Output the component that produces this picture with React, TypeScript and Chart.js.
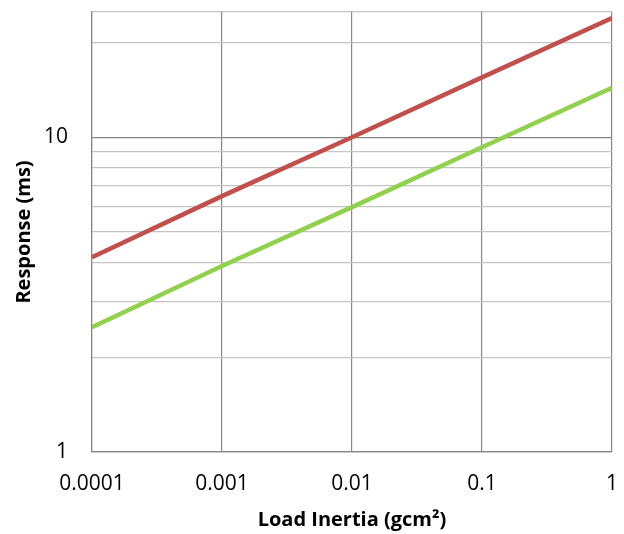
import React, { useEffect, useRef } from "react";
import { Chart, registerables } from "chart.js";

Chart.register(...registerables);

const inertia = [0.0001, 0.001, 0.01, 0.1, 1];
const responseRed = [4.16, 6.5, 10, 15.5, 23.9];
const responseGreen = [2.49, 3.9, 6.0, 9.3, 14.35];

const xTickValues = [0.0001, 0.001, 0.01, 0.1, 1];
const xTickLabels = ["0.0001", "0.001", "0.01", "0.1", "1"];
const yTickValues = [1, 2, 3, 4, 5, 6, 7, 8, 9, 10, 20, 25];
const yMajorValues = [1, 10];
const yTickLabels = ["1", "10"];

const xTitle = "Load Inertia (gcm²)";
const yTitle = "Response (ms)";

const MAJOR = "#878787";
const MINOR = "#c4c4c4";
const FONT = "'Open Sans', sans-serif";

export default function App() {
  const ref = useRef<HTMLCanvasElement | null>(null);

  useEffect(() => {
    document.body.style.margin = "0";
    const canvas = ref.current;
    if (!canvas) return;
    const chart = new Chart(canvas, {
      type: "line",
      data: {
        datasets: [
          {
            data: inertia.map((x, i) => ({ x, y: responseRed[i] })),
            borderColor: "#C0504D",
            borderWidth: 4.5,
            pointRadius: 0,
            tension: 0,
          },
          {
            data: inertia.map((x, i) => ({ x, y: responseGreen[i] })),
            borderColor: "#92D050",
            borderWidth: 4.5,
            pointRadius: 0,
            tension: 0,
          },
        ],
      },
      options: {
        animation: false,
        responsive: false,
        devicePixelRatio: 1,
        layout: { padding: { top: 12, right: 12, left: 0, bottom: 0 } },
        plugins: { legend: { display: false }, tooltip: { enabled: false } },
        scales: {
          x: {
            type: "logarithmic",
            min: 0.0001,
            max: 1,
            afterBuildTicks: (scale: any) => {
              scale.ticks = xTickValues.map((v) => ({ value: v }));
            },
            afterFit: (scale: any) => {
              scale.height = 82;
              scale.paddingLeft = 0;
              scale.paddingRight = 0;
            },
            ticks: {
              autoSkip: false,
              maxRotation: 0,
              padding: 19,
              color: "#000",
              font: { family: FONT, size: 21 },
              callback: (value: any) => {
                const i = xTickValues.findIndex((v) => Math.abs(v - Number(value)) < Number(value) * 1e-6);
                return i >= 0 ? xTickLabels[i] : "";
              },
            },
            grid: { color: MAJOR, lineWidth: 1.2, drawTicks: false },
            border: { color: MAJOR, width: 1.2 },
            title: {
              display: true,
              text: xTitle,
              color: "#000",
              font: { family: FONT, size: 20, weight: "bold" },
              padding: { top: 0, bottom: 2 },
            },
          },
          y: {
            type: "logarithmic",
            min: 1,
            max: 25,
            afterBuildTicks: (scale: any) => {
              scale.ticks = yTickValues.map((v) => ({ value: v }));
            },
            afterFit: (scale: any) => {
              scale.width = 92;
              scale.paddingTop = 0;
              scale.paddingBottom = 0;
            },
            ticks: {
              autoSkip: false,
              padding: 24,
              color: "#000",
              font: { family: FONT, size: 21 },
              callback: (value: any) => {
                const i = yMajorValues.indexOf(Number(value));
                return i >= 0 ? yTickLabels[i] : "";
              },
            },
            grid: {
              drawTicks: false,
              lineWidth: 1.2,
              color: (ctx: any) =>
                ctx.tick && yMajorValues.includes(ctx.tick.value) ? MAJOR : MINOR,
            },
            border: { color: MAJOR, width: 1.2 },
            title: {
              display: true,
              text: yTitle,
              color: "#000",
              font: { family: FONT, size: 20, weight: "bold" },
              padding: { top: 12, bottom: 0 },
            },
          },
        },
      },
    } as any);
    return () => chart.destroy();
  }, []);

  return (
    <div style={{ width: 624, height: 534 }}>
      <canvas ref={ref} width={624} height={534} style={{ display: "block" }} />
    </div>
  );
}
